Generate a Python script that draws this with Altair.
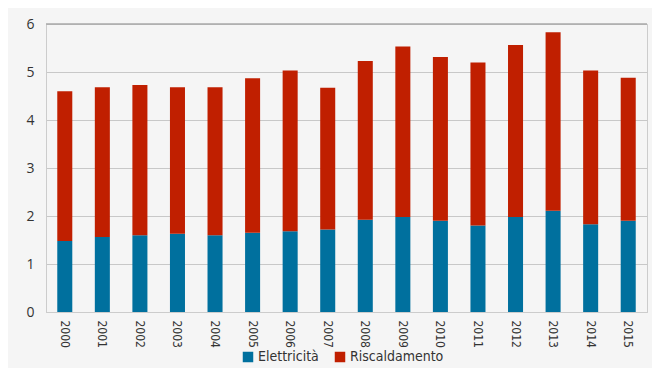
import altair as alt
import pandas as pd

years = [str(y) for y in range(2000, 2016)]
totale = [4.60, 4.68, 4.73, 4.68, 4.68, 4.87, 5.03, 4.67, 5.23, 5.53, 5.31, 5.20, 5.56, 5.83, 5.03, 4.88]
elettricita = [1.48, 1.56, 1.60, 1.63, 1.60, 1.65, 1.68, 1.72, 1.92, 1.98, 1.90, 1.80, 1.98, 2.11, 1.83, 1.90]
riscaldamento = [round(t - e, 2) for t, e in zip(totale, elettricita)]
series = ["Elettricità", "Riscaldamento"]
colors = ["#00709e", "#c01f00"]

rows = []
for i, y in enumerate(years):
    rows.append({"anno": y, "serie": series[0], "valore": elettricita[i], "ord": 0})
    rows.append({"anno": y, "serie": series[1], "valore": riscaldamento[i], "ord": 1})
df = pd.DataFrame(rows)

narrow = "Liberation Sans Narrow, DejaVu Sans Condensed, Roboto Condensed, sans-serif"

bars = alt.Chart(df).mark_bar().encode(
    x=alt.X("anno:N", sort=years, title=None,
            scale=alt.Scale(paddingInner=0.6, paddingOuter=0.3),
            axis=alt.Axis(labelAngle=90, labelAlign="left", labelBaseline="middle",
                          labelFont=narrow, labelFontSize=12, labelColor="#333333",
                          labelPadding=8, ticks=False, domainColor="#cccccc")),
    y=alt.Y("valore:Q", stack="zero", title=None,
            scale=alt.Scale(domain=[0, 6], nice=False),
            axis=alt.Axis(values=[0, 1, 2, 3, 4, 5, 6], labelFont="Open Sans", labelFontSize=14,
                          labelColor="#333333", labelPadding=12, ticks=False,
                          gridColor="#c8c8c8", domainColor="#cccccc")),
    color=alt.Color("serie:N", scale=alt.Scale(domain=series, range=colors),
                    legend=alt.Legend(title=None, orient="none", direction="horizontal",
                                      legendX=195, legendY=326, symbolType="square",
                                      symbolSize=110, symbolStrokeWidth=0,
                                      labelFont=narrow, labelFontSize=14, labelColor="#333333",
                                      columnPadding=14, labelOffset=3)),
    order=alt.Order("ord:Q"),
)

top = alt.Chart(pd.DataFrame({"y": [6]})).mark_rule(color="#a8a8a8", strokeWidth=1.5).encode(y=alt.Y("y:Q"))

chart = alt.layer(bars, top).properties(
    width=601, height=288,
    background="#f5f5f5",
    autosize=alt.AutoSizeParams(type="none"),
    padding={"left": 38, "top": 16, "right": 5, "bottom": 56},
).configure_view(stroke="#cccccc", strokeWidth=1)

chart.save("out.html", embed_options={"renderer": "svg", "actions": False})
